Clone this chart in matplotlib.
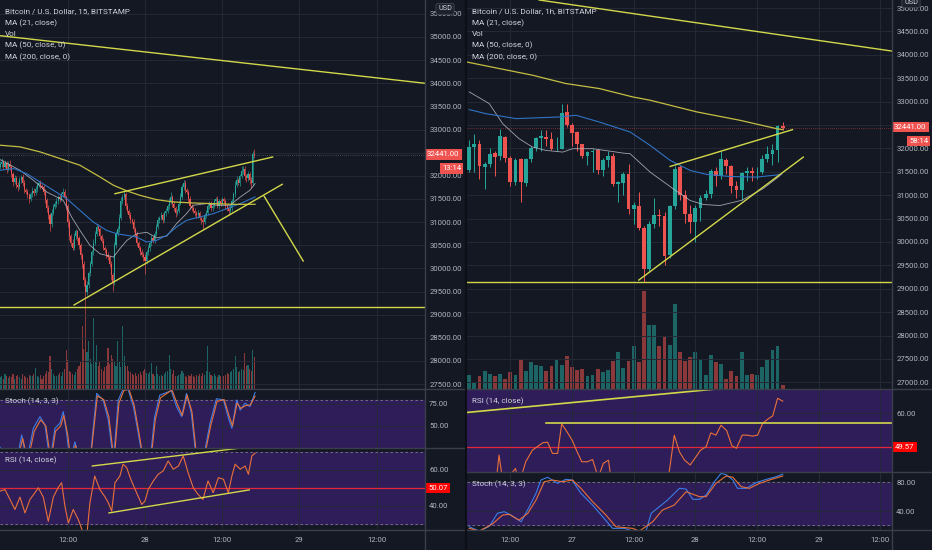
import matplotlib
matplotlib.use('Agg')
import matplotlib.pyplot as plt
import matplotlib.transforms as mtransforms
from matplotlib.lines import Line2D
import numpy as np

plt.rcParams['font.family'] = ['Roboto', 'DejaVu Sans']

# ---------------- DATA ----------------
# Left chart: 15-minute candles, x = hours since 27th 00:00
L_t0 = 1.5
L_step = 0.25
L_close = [
    32265, 32300, 32200, 32280, 32150, 32250, 32190, 32050, 31870, 31950,
    31800, 31760, 31900, 31980, 31850, 31700, 31650, 31580, 31500, 31600,
    31680, 31620, 31720, 31800, 31850, 31780, 31760, 31650, 31480, 31300,
    31150, 30950, 31200, 31330, 31400, 31450, 31550, 31500, 31600, 31650,
    31550, 31350, 31000, 30700, 30550, 30450, 30700, 30800, 30650, 30500,
    30300, 30100, 29750, 29500, 29650, 29900, 30100, 30350, 30550, 30750,
    30900, 30850, 30700, 30600, 30450, 30400, 30300, 30250, 30100, 29850,
    29700, 30500, 30750, 30850, 31100, 31450, 31550, 31600, 31350, 31250,
    31150, 31050, 31000, 30850, 30750, 30550, 30450, 30350, 30300, 30250,
    30150, 30350, 30450, 30550, 30650, 30600, 30750, 30900, 31050, 31100,
    31150, 31050, 31200, 31250, 31350, 31450, 31550, 31400, 31300, 31200,
    31250, 31400, 31550, 31750, 31850, 31700, 31650, 31500, 31350, 31300,
    31250, 31200, 31150, 31200, 31100, 31050, 31000, 31150, 31200, 31350,
    31400, 31300, 31350, 31450, 31500, 31350, 31450, 31400, 31500, 31450,
    31350, 31300, 31250, 31300, 31450, 31600, 31800, 31900, 31850, 32000,
    32100, 32150, 32000, 31950, 32050, 31900, 31850, 32480, 32441]
L_first_open = 32200
L_wick_up = [
    60, 80, 50, 70, 40, 60, 90, 50, 40, 70,
    50, 60, 80, 40, 50, 60, 40, 70, 50, 60,
    80, 50, 60, 70, 40, 60, 50, 40, 60, 50,
    70, 40, 90, 60, 50, 70, 40, 60, 50, 80,
    60, 40, 50, 70, 40, 80, 60, 50, 40, 60,
    50, 40, 60, 70, 80, 50, 60, 40, 90, 50,
    70, 60, 40, 50, 60, 40, 50, 60, 40, 70,
    60, 80, 50, 60, 70, 90, 60, 100, 50, 60,
    40, 60, 50, 70, 40, 60, 50, 40, 60, 50,
    70, 40, 60, 50, 80, 40, 60, 50, 70, 40,
    60, 50, 40, 60, 50, 70, 100, 40, 60, 50,
    40, 60, 70, 80, 50, 60, 40, 50, 60, 40,
    50, 60, 40, 70, 50, 40, 60, 50, 70, 40,
    60, 50, 40, 60, 50, 70, 40, 60, 50, 40,
    60, 50, 40, 70, 50, 60, 80, 100, 60, 50,
    120, 70, 60, 50, 60, 40, 70, 60, 95]
L_wick_dn = [
    50, 70, 60, 40, 80, 50, 60, 70, 90, 50,
    60, 80, 40, 50, 60, 70, 50, 60, 80, 40,
    50, 60, 40, 70, 50, 60, 50, 60, 70, 80,
    90, 150, 60, 50, 40, 70, 50, 60, 40, 50,
    60, 80, 100, 90, 70, 60, 50, 70, 60, 80,
    90, 100, 120, 120, 80, 70, 60, 50, 60, 50,
    60, 50, 70, 60, 50, 60, 70, 60, 80, 100,
    180, 60, 50, 40, 60, 50, 60, 40, 60, 50,
    70, 60, 50, 60, 70, 60, 50, 70, 60, 80,
    270, 60, 50, 70, 60, 50, 40, 60, 50, 60,
    50, 70, 40, 60, 50, 60, 50, 70, 60, 80,
    50, 60, 40, 50, 60, 70, 50, 60, 70, 60,
    50, 60, 70, 50, 60, 80, 150, 50, 60, 40,
    60, 50, 70, 40, 60, 50, 60, 50, 40, 60,
    70, 60, 100, 50, 60, 50, 60, 40, 50, 60,
    50, 60, 80, 90, 60, 70, 120, 80, 50]
L_volume = [
    35, 40, 30, 45, 38, 32, 40, 36, 44, 30,
    38, 42, 35, 30, 45, 40, 36, 33, 42, 38,
    40, 45, 63, 38, 35, 42, 30, 40, 46, 55,
    50, 98, 60, 45, 40, 38, 42, 48, 40, 52,
    60, 118, 88, 55, 50, 45, 42, 50, 60, 70,
    80, 188, 120, 270, 110, 143, 90, 75, 213, 85,
    133, 70, 83, 60, 55, 65, 70, 123, 75, 103,
    90, 80, 70, 143, 85, 65, 188, 100, 70, 68,
    55, 50, 45, 42, 48, 40, 45, 50, 42, 55,
    60, 48, 45, 50, 78, 45, 40, 68, 45, 40,
    42, 38, 45, 50, 55, 103, 60, 45, 58, 40,
    38, 42, 45, 53, 48, 40, 35, 42, 38, 45,
    40, 36, 42, 38, 45, 40, 48, 42, 55, 128,
    50, 42, 38, 45, 40, 36, 42, 38, 45, 40,
    42, 48, 45, 50, 55, 60, 98, 65, 50, 55,
    60, 58, 108, 70, 73, 60, 55, 118, 95]

# Left moving averages: (hour, price) vertices
L_ma21_t = [1.48, 4.58, 6.66, 8.73, 11.3, 12.6, 13.9, 15.45, 17.0, 19.1, 20.1, 21.2, 22.7, 24.3, 25.8, 27.4, 28.9, 30.45, 31.5, 33.6, 35.1, 37.2, 38.8, 40.3, 41.1]
L_ma21_p = [32352, 32121, 31905, 31652, 31472, 31111, 30822, 30498, 30317, 30245, 30426, 30606, 30750, 30780, 30660, 30700, 30967, 31183, 31364, 31400, 31364, 31364, 31544, 31688, 31833]
L_ma50_t = [1.48, 3.6, 5.6, 7.69, 9.76, 11.83, 13.9, 15.97, 18.04, 19.6, 21.2, 22.7, 24.26, 25.8, 27.36, 28.9, 30.45, 32.5, 34.6, 36.7, 38.8, 41.1]
L_ma50_p = [32121, 32157, 32049, 31869, 31688, 31508, 31255, 31003, 30822, 30750, 30714, 30678, 30570, 30606, 30714, 30895, 31039, 31111, 31183, 31291, 31400, 31544]
L_ma200_t = [1.48, 4.58, 7.69, 10.8, 13.9, 17.0, 19.1, 21.2, 23.2, 25.8, 28.4, 31.5, 34.6, 37.7, 41.1]
L_ma200_p = [32662, 32626, 32518, 32374, 32229, 31977, 31797, 31674, 31580, 31486, 31436, 31414, 31400, 31385, 31385]

# Left trend lines (start hour, start price, end hour, end price)
L_lines = [
    (1.48, 35028, 67.5, 34000),
    (1.48, 29170, 67.5, 29170),
    (19.34, 31614, 43.83, 32407),
    (12.98, 29210, 45.32, 31817),
    (42.52, 31558, 48.58, 30160),
]

# Left stochastic
L_stk_t = [1.48, 2.5, 4.07, 4.85, 5.62, 6.66, 7.69, 8.47, 9.24, 10.02, 10.8, 11.3, 11.83, 12.35, 13.12, 13.9, 15.45, 16.5, 17.5, 18.3, 19.1, 19.85, 20.6, 21.4, 22.2, 22.96, 23.7, 24.8, 25.5, 26.3, 27.36, 28.1, 28.9, 29.7, 30.45, 31.2, 32.0, 33.0, 34.1, 35.1, 36.2, 36.9, 37.5, 38.25, 38.8, 39.55, 40.3, 41.1]
L_stk_v = [26, 10, 10, 39.8, 10, 47.4, 60.6, 51, 10, 47.4, 53.2, 66.3, 41.7, 10, 32, 10, 10, 87, 79.5, 56.8, 10, 79.5, 91.7, 91, 72, 41.7, 10, 10, 60.6, 85, 88, 90, 72, 60.6, 87, 64.4, 10, 10, 53, 81, 79.5, 60.6, 47.4, 79.5, 68, 75.8, 72, 88]
L_std_t = [1.48, 2.6, 4.2, 5.0, 5.8, 6.8, 7.8, 8.6, 9.4, 10.1, 10.9, 11.4, 12.0, 12.5, 13.2, 14.0, 15.5, 16.6, 17.6, 18.4, 19.2, 19.95, 20.7, 21.5, 22.3, 23.0, 23.8, 24.9, 25.6, 26.4, 27.4, 28.2, 29.0, 29.8, 30.55, 31.3, 32.1, 33.1, 34.2, 35.2, 36.3, 37.0, 37.6, 38.3, 38.9, 39.6, 40.4, 41.1]
L_std_v = [22, 10, 10, 36, 10, 44, 57, 50, 10, 44, 50, 62, 40, 10, 28, 10, 10, 84, 80, 60, 10, 76, 90, 92, 74, 45, 10, 10, 57, 82, 87, 91, 75, 62, 85, 66, 10, 10, 50, 78, 80, 63, 50, 76, 70, 73, 74, 84]

# Left RSI
L_rsi_t = [1.48, 2.25, 3.03, 3.8, 4.58, 5.36, 6.14, 6.9, 7.43, 8.2, 8.98, 9.76, 10.5, 11.05, 11.57, 12.1, 12.86, 13.64, 14.4, 15.0, 15.45, 16.2, 17.0, 17.8, 18.3, 18.83, 19.34, 20.1, 20.6, 21.15, 21.9, 22.7, 23.5, 24.0, 24.5, 25.3, 26.06, 26.84, 27.6, 28.4, 29.2, 29.94, 30.7, 31.5, 32.25, 33.0, 33.8, 34.6, 35.4, 36.2, 36.95, 37.5, 38.0, 38.8, 39.55, 40.07, 40.6, 41.1]
L_rsi_v = [48.2, 49.1, 43.6, 38, 44.9, 36.1, 43.6, 47.3, 50.1, 44.9, 31.4, 44.9, 50.1, 52.9, 39.8, 30.5, 38, 32.4, 25, 25, 41.8, 56.6, 49.1, 44.9, 41.8, 37.1, 52.9, 56.6, 63.2, 61.3, 53.9, 47.3, 40.8, 42.7, 49.1, 53.9, 57.6, 59.5, 65, 60.4, 62.2, 67.8, 58.5, 50.1, 46.4, 43.6, 53.9, 47.3, 55.7, 54.8, 47.3, 56.6, 63.2, 60.4, 62.2, 57.6, 67.8, 69.3]
L_rsi_last = 50.07
L_rsi_lines = [(15.82, 62.2, 40.04, 72.7), (18.41, 36.1, 40.2, 48.9)]

# Right chart: 1-hour candles
R_t0 = -20
R_step = 1
R_open = [31529, 32029, 32086, 31600, 31657, 31900, 31829, 32243, 31800, 31279,
          31771, 31265, 31779, 32014, 32221, 32243, 32200, 31979, 31993, 32779,
          32500, 32350, 32093, 31843, 31914, 31957, 31543, 31757, 31843, 31229,
          31264, 31443, 30714, 30779, 30293, 29421, 30386, 30579, 30564, 29721,
          30779, 31600, 31007, 30600, 30421, 30729, 30936, 31029, 31514, 31400,
          31757, 31614, 31186, 31100, 31471, 31514, 31486, 31486, 31771, 31879,
          31971, 32486]
R_high = [32171, 32300, 32171, 31700, 32000, 31950, 32421, 32260, 31830, 31800,
          31800, 31800, 32050, 32250, 32400, 32400, 32350, 32250, 32957, 32943,
          32550, 32380, 32100, 31950, 31990, 31990, 31800, 31950, 31900, 31300,
          31500, 31671, 30850, 31064, 30350, 30450, 30950, 30700, 30650, 30800,
          31620, 31650, 31100, 30800, 30800, 31000, 31100, 31550, 31600, 31950,
          31800, 31650, 31300, 31500, 31600, 31600, 31600, 31850, 32050, 32100,
          32500, 32560]
R_low = [31493, 31493, 31350, 31136, 31600, 31400, 31750, 31700, 31200, 31220,
         30850, 31200, 31700, 31950, 31950, 32050, 31964, 31950, 31980, 32450,
         32050, 31950, 31800, 31650, 31500, 31450, 31400, 31600, 31200, 30850,
         31000, 30600, 30386, 30250, 29136, 29350, 30300, 30350, 29507, 29650,
         30700, 30900, 30400, 30200, 30000, 30450, 30900, 30950, 31200, 31350,
         31450, 31050, 30950, 30900, 31300, 31300, 31350, 31450, 31700, 31650,
         31700, 32400]
R_close = [32029, 32100, 31614, 31657, 31886, 31814, 32257, 31800, 31279, 31757,
           31279, 31779, 32014, 32221, 32257, 32207, 31979, 31993, 32764, 32493,
           32336, 32093, 31829, 31914, 31936, 31543, 31757, 31843, 31229, 31279,
           31443, 30707, 30786, 30293, 29421, 30386, 30579, 30550, 29707, 30779,
           31564, 31007, 30600, 30421, 30729, 30936, 31029, 31514, 31400, 31779,
           31614, 31186, 31100, 31471, 31514, 31471, 31500, 31771, 31879, 31971,
           32486, 32441]
R_volume = [43, 20, 40, 53, 46, 40, 46, 31, 50, 43,
            90, 53, 80, 73, 68, 55, 70, 88, 73, 98,
            66, 58, 61, 38, 43, 60, 50, 56, 83, 110,
            63, 85, 128, 80, 293, 191, 193, 130, 160, 131,
            256, 110, 85, 96, 111, 90, 43, 103, 80, 76,
            30, 55, 40, 110, 41, 46, 43, 65, 91, 118,
            128, 13]

R_ma21_t = [-20, -16.1, -13.5, -10.3, -7.7, -5.1, -1.8, 0.1, 4.0, 7.3, 9.9, 11.3, 15.2, 19.7, 23.0, 25.6, 28.8, 33.0, 37.2, 40.5]
R_ma21_p = [33207, 32957, 32529, 32207, 32029, 31957, 31921, 31993, 31993, 31943, 31900, 31886, 31493, 31136, 30886, 30800, 30779, 30890, 31140, 31420]
R_ma50_t = [-20, -16.8, -10.9, -2.5, 0.8, 5.3, 11.3, 15.2, 19.1, 23.0, 26.2, 30.7, 35.9, 40.8]
R_ma50_p = [32829, 32743, 32636, 32671, 32707, 32564, 32350, 32064, 31743, 31529, 31443, 31400, 31386, 31443]
R_ma200_t = [-20.65, -14.2, -7.7, -1.2, 5.3, 11.8, 15.2, 24.3, 32.7, 39.8, 41.0]
R_ma200_p = [33850, 33707, 33564, 33386, 33279, 33100, 33029, 32779, 32600, 32421, 32400]

R_lines = [
    (-6.4, 35171, 62.3, 34079),
    (-20.5, 29150, 62.3, 29150),
    (19.1, 31614, 42.9, 32400),
    (13.0, 29186, 45.0, 31814),
]

R_rsi_t = [-20, -16, -14.8, -14.2, -13.4, -11.0, -10.3, -9.0, -7.7, -5.7, -4.75, -3.8, -2.8, -2.0, -1.0, 0.0, 1.0, 1.9, 3.0, 4.0, 5.1, 6.1, 7.1, 7.7, 10, 15, 18.6, 19.9, 20.9, 21.9, 23.0, 24.1, 25.0, 26.1, 27.0, 28.0, 29.0, 30.1, 31.1, 32.0, 33.1, 34.1, 35.1, 36.1, 37.1, 38.1, 39.05, 40.0, 41.0]
R_rsi_v = [35, 36, 38, 47, 38, 42.8, 38, 44.9, 48.5, 50.8, 51, 47.5, 47.5, 56.7, 54.3, 51.7, 48, 44.9, 44.9, 45.6, 40, 44.4, 45.4, 38, 35, 33, 38, 53.2, 48, 45.4, 43.9, 46.4, 48.5, 49.6, 53.9, 53.2, 56.3, 54.6, 49.9, 49.1, 53.2, 53.2, 52.9, 53.2, 56.9, 58.2, 59.2, 64.7, 63.8]
R_rsi_last = 49.57
R_rsi_lines = [(-20.3, 60.3, 27.4, 67.5), (-5.1, 56.9, 62.3, 56.9)]

R_stk_t = [-20, -18.05, -16.1, -14.5, -13.2, -11.9, -9.9, -8.3, -7.0, -6.05, -4.75, -2.8, -1.2, 0.0, 1.74, 4.0, 5.96, 7.9, 10.2, 11.8, 14.4, 15.4, 17.0, 18.6, 20.9, 22.2, 23.5, 24.8, 26.1, 27.7, 29.0, 30.0, 31.3, 32.2, 33.9, 35.8, 37.75, 39.7, 41.0]
R_stk_v = [18.1, 12, 18.5, 36.8, 39, 34.4, 25, 46, 64.7, 83.2, 87, 78.6, 84.2, 83.2, 64.7, 48.3, 32, 15.8, 15.8, 12, 12, 36.8, 46, 55.3, 71.6, 70.6, 56.3, 56.3, 62.3, 80.8, 92.5, 90.6, 83.2, 71.6, 71.6, 79.5, 84, 87.8, 91.5]
R_std_t = [-20, -18.05, -15.5, -13.5, -12.2, -10.3, -8.6, -7.0, -5.4, -3.8, -1.8, 0.1, 1.74, 4.0, 6.6, 8.55, 11.8, 13.1, 15.7, 17.6, 19.9, 22.2, 24.8, 26.1, 28.0, 30.0, 31.3, 32.9, 34.5, 36.5, 38.4, 41.0]
R_std_v = [15.8, 12, 21.8, 34.4, 35.3, 27.3, 36.8, 55.3, 80.8, 83.2, 80.8, 83.2, 71.6, 53, 34.4, 18, 15.8, 12, 25, 41.3, 48.3, 66.9, 60, 60, 78.6, 88.8, 87, 74, 71.6, 78.6, 83.2, 88.8]

last_price = 32441.00
L_countdown = '13:14'
R_countdown = '58:14'

L_time_ticks = [12, 24, 36, 48, 60]
L_time_labels = ['12:00', '28', '12:00', '29', '12:00']
R_time_ticks = [-12, 0, 12, 24, 36, 48, 60]
R_time_labels = ['12:00', '27', '12:00', '28', '12:00', '29', '12:00']

L_legend = ['Bitcoin / U.S. Dollar, 15, BITSTAMP', 'MA (21, close)', 'Vol', 'MA (50, close, 0)', 'MA (200, close, 0)']
R_legend = ['Bitcoin / U.S. Dollar, 1h, BITSTAMP', 'MA (21, close)', 'Vol', 'MA (50, close, 0)', 'MA (200, close, 0)']

# ---------------- STYLE ----------------
BG = '#141823'
GRID = '#252935'
TXT = '#b2b5be'
UP = '#26a69a'
DN = '#ef5350'
TREND = '#d3d84a'
MA200C = '#c4be42'
MA50C = '#2f73c4'
MA21C = '#b8bcc6'
PURPLE = '#2f1d5a'
SEP = '#3a3e4a'
FS = 5.6
LFS = 5.9

W, H = 932, 550
fig = plt.figure(figsize=(W / 100, H / 100), dpi=100, facecolor=BG)


def rect(x0, y0, x1, y1):
    return [x0 / W, 1 - y1 / H, (x1 - x0) / W, (y1 - y0) / H]


def style(ax, xlim, ylim, xt, yt, ylab):
    ax.set_facecolor(BG)
    ax.set_xlim(*xlim)
    ax.set_ylim(*ylim)
    ax.set_xticks(xt)
    ax.set_xticklabels([])
    ax.set_yticks(yt)
    ax.set_yticklabels(ylab)
    ax.yaxis.tick_right()
    ax.tick_params(axis='both', length=0, colors=TXT, labelsize=FS, pad=3)
    ax.grid(True, color=GRID, lw=0.7)
    ax.set_axisbelow(True)
    for s in ax.spines.values():
        s.set_visible(False)


def candles(ax, t, o, h, l, c, width, lw):
    t = np.asarray(t, float)
    o = np.asarray(o, float); c = np.asarray(c, float)
    h = np.asarray(h, float); l = np.asarray(l, float)
    col = np.where(c >= o, UP, DN)
    ax.vlines(t, l, h, colors=col, lw=lw, zorder=3)
    body = np.maximum(np.abs(c - o), 12)
    ax.bar(t, body, bottom=np.minimum(o, c), width=width, color=col, lw=0, zorder=4)
    return col


def volume(ax, t, vol, col, width, top):
    axv = ax.twinx()
    axv.set_ylim(0, top)
    axv.yaxis.set_visible(False)
    for s in axv.spines.values():
        s.set_visible(False)
    axv.bar(t, vol, width=width, color=col, alpha=0.55, lw=0)
    ax.set_zorder(axv.get_zorder() + 1)
    ax.patch.set_visible(False)
    axv.patch.set_visible(True)
    axv.set_facecolor(BG)
    # twinx moves the parent's labels to the left; put them back on the right
    ax.yaxis.tick_right()
    ax.tick_params(axis='y', left=False, labelleft=False, right=False, labelright=True,
                   length=0, colors=TXT, labelsize=FS, pad=3)
    return axv


def price_tag(ax, y, text, fc, dy_px=0, dx_px=3, size=FS):
    tr = mtransforms.blended_transform_factory(ax.transAxes, ax.transData)
    ax.annotate(text, xy=(1.0, y), xycoords=tr, xytext=(dx_px, dy_px), textcoords='offset pixels',
                ha='left', va='center', fontsize=size, color='white', annotation_clip=False,
                bbox=dict(boxstyle='square,pad=0.28', fc=fc, ec='none'), zorder=10)


# ---------------- LEFT CHART ----------------
L_xlim = (1.48, 67.5)
axL = fig.add_axes(rect(0, 0, 425, 389))
axLs = fig.add_axes(rect(0, 389, 425, 448))
axLr = fig.add_axes(rect(0, 448, 425, 530))

L_n = len(L_close)
L_t = [L_t0 + L_step * k for k in range(L_n)]
L_open = [L_first_open] + L_close[:-1]
L_high = [max(a, b) + u for a, b, u in zip(L_open, L_close, L_wick_up)]
L_low = [min(a, b) - d for a, b, d in zip(L_open, L_close, L_wick_dn)]

pt = list(range(27500, 36000, 500))
style(axL, L_xlim, (27395, 35799), L_time_ticks, pt, [f'{v:.2f}' for v in pt])
colL = candles(axL, L_t, L_open, L_high, L_low, L_close, 0.17, 0.45)
volume(axL, L_t, L_volume, colL, 0.17, 1167)
axL.plot(L_ma21_t, L_ma21_p, color=MA21C, lw=0.6, alpha=0.85, zorder=5)
axL.plot(L_ma50_t, L_ma50_p, color=MA50C, lw=0.8, zorder=5)
axL.plot(L_ma200_t, L_ma200_p, color=MA200C, lw=0.9, zorder=5)
for x0, y0, x1, y1 in L_lines:
    axL.plot([x0, x1], [y0, y1], color=TREND, lw=1.0, zorder=6)
axL.axhline(last_price, color='#8a8e99', lw=0.5, ls=(0, (1, 2)), alpha=0.8, zorder=2)
price_tag(axL, last_price, f'{last_price:.2f}', DN, dy_px=1, dx_px=2)
price_tag(axL, last_price, L_countdown, DN, dy_px=-13, dx_px=17)

style(axLs, L_xlim, (25, 92), L_time_ticks, [50, 75], ['50.00', '75.00'])
axLs.axhspan(20, 80, color=PURPLE, zorder=0)
axLs.axhline(80, color='#787b86', lw=0.6, ls=(0, (3, 3)))
axLs.plot(L_stk_t, L_stk_v, color='#3c7de6', lw=0.8, zorder=5)
axLs.plot(L_std_t, L_std_v, color='#e8703a', lw=0.8, zorder=5)

style(axLr, L_xlim, (26.6, 72.2), L_time_ticks, [40, 60], ['40.00', '60.00'])
axLr.axhspan(30, 70, color=PURPLE, zorder=0)
axLr.axhline(70, color='#787b86', lw=0.6, ls=(0, (3, 3)))
axLr.axhline(30, color='#787b86', lw=0.6, ls=(0, (3, 3)))
axLr.axhline(L_rsi_last, color='#e0283a', lw=0.9, zorder=3)
axLr.plot(L_rsi_t, L_rsi_v, color='#e8703a', lw=0.8, zorder=5)
for x0, y0, x1, y1 in L_rsi_lines:
    axLr.plot([x0, x1], [y0, y1], color=TREND, lw=1.0, zorder=6)
price_tag(axLr, L_rsi_last, f'{L_rsi_last:.2f}', '#ff0000')
axLr.set_xticklabels(L_time_labels)
axLr.tick_params(axis='x', pad=5)

# ---------------- RIGHT CHART ----------------
R_xlim = (-20.43, 62.26)
axR = fig.add_axes(rect(467, 0, 892, 389))
axRr = fig.add_axes(rect(467, 389, 892, 472))
axRs = fig.add_axes(rect(467, 472, 892, 530))

R_t = [R_t0 + R_step * k for k in range(len(R_close))]
pr = list(range(27000, 35500, 500))
style(axR, R_xlim, (26858, 35171), R_time_ticks, pr, [f'{v:.2f}' for v in pr])
colR = candles(axR, R_t, R_open, R_high, R_low, R_close, 0.74, 0.7)
volume(axR, R_t, R_volume, colR, 0.74, 1167)
axR.plot(R_ma21_t, R_ma21_p, color=MA21C, lw=0.6, alpha=0.85, zorder=5)
axR.plot(R_ma50_t, R_ma50_p, color=MA50C, lw=0.8, zorder=5)
axR.plot(R_ma200_t, R_ma200_p, color=MA200C, lw=0.9, zorder=5)
for x0, y0, x1, y1 in R_lines:
    axR.plot([x0, x1], [y0, y1], color=TREND, lw=1.0, zorder=6)
axR.axhline(last_price, color=DN, lw=0.5, ls=(0, (1, 2)), alpha=0.8, zorder=2)
price_tag(axR, last_price, f'{last_price:.2f}', DN, dy_px=1, dx_px=2)
price_tag(axR, last_price, R_countdown, DN, dy_px=-13, dx_px=17)

style(axRr, R_xlim, (41.7, 67.6), R_time_ticks, [60], ['60.00'])
axRr.axhspan(30, 70, color=PURPLE, zorder=0)
axRr.axhline(R_rsi_last, color='#e0283a', lw=0.9, zorder=3)
axRr.plot(R_rsi_t, R_rsi_v, color='#e8703a', lw=0.8, zorder=5)
for x0, y0, x1, y1 in R_rsi_lines:
    axRr.plot([x0, x1], [y0, y1], color=TREND, lw=1.2, zorder=6)
price_tag(axRr, R_rsi_last, f'{R_rsi_last:.2f}', '#ff0000')

style(axRs, R_xlim, (13.5, 94.4), R_time_ticks, [40, 80], ['40.00', '80.00'])
axRs.axhspan(20, 80, color=PURPLE, zorder=0)
axRs.axhline(80, color='#787b86', lw=0.6, ls=(0, (3, 3)))
axRs.axhline(20, color='#787b86', lw=0.6, ls=(0, (3, 3)))
axRs.plot(R_stk_t, R_stk_v, color='#3c7de6', lw=0.8, zorder=5)
axRs.plot(R_std_t, R_std_v, color='#e8703a', lw=0.8, zorder=5)
axRs.set_xticklabels(R_time_labels)
axRs.tick_params(axis='x', pad=5)

# ---------------- SEPARATORS / LABELS ----------------
def fline(x0, y0, x1, y1, color=SEP, lw=1.0):
    fig.add_artist(Line2D([x0 / W, x1 / W], [1 - y0 / H, 1 - y1 / H], color=color, lw=lw))

fline(0, 389, 466, 389)
fline(0, 448, 466, 448)
fline(467, 389, 932, 389)
fline(467, 472, 932, 472)
fline(0, 530, 932, 530)
fline(425, 0, 425, 550)
fline(892, 0, 892, 550)
fline(466, 0, 466, 550, color='#0c0f16', lw=1.5)

ys = [11, 22.7, 33.7, 45, 57]
for i, (a, b) in enumerate(zip(L_legend, R_legend)):
    fig.text(5 / W, 1 - ys[i] / H, a, color='#d1d4dc', fontsize=LFS, va='center', ha='left')
    fig.text(472 / W, 1 - ys[i] / H, b, color='#d1d4dc', fontsize=LFS, va='center', ha='left')

fig.text(5 / W, 1 - 401 / H, 'Stoch (14, 3, 3)', color='#d1d4dc', fontsize=LFS, va='center')
fig.text(5 / W, 1 - 460 / H, 'RSI (14, close)', color='#d1d4dc', fontsize=LFS, va='center')
fig.text(472 / W, 1 - 401 / H, 'RSI (14, close)', color='#d1d4dc', fontsize=LFS, va='center')
fig.text(472 / W, 1 - 484 / H, 'Stoch (14, 3, 3)', color='#d1d4dc', fontsize=LFS, va='center')

fig.text(445 / W, 1 - 9 / H, 'USD', color='#d1d4dc', fontsize=5.2, va='center', ha='center',
         bbox=dict(boxstyle='round,pad=0.3', fc='#1e222d', ec='#434651', lw=0.6))
fig.text(911 / W, 1 - 2 / H, 'USD', color='#d1d4dc', fontsize=5.2, va='center', ha='center',
         bbox=dict(boxstyle='round,pad=0.3', fc='#1e222d', ec='#434651', lw=0.6))

fig.savefig('out.png', dpi=100, facecolor=BG)
